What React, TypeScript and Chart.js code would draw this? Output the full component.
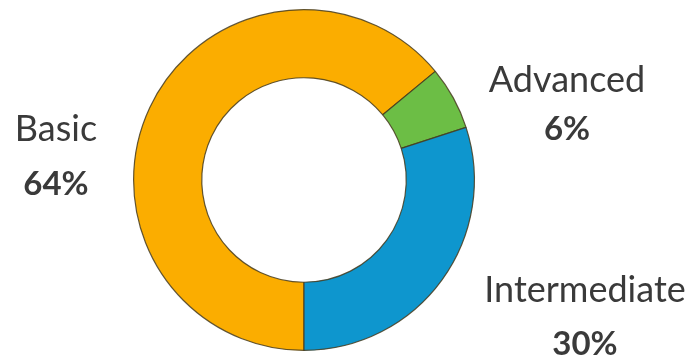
import React, { useEffect, useRef } from "react";
import { Chart, registerables } from "chart.js";

Chart.register(...registerables);

const categories = ["Basic", "Advanced", "Intermediate"];
const values = [64, 6, 30];
const colors = ["#FBAD00", "#6CBE45", "#0E96CE"];
const percentLabels = ["64%", "6%", "30%"];

// label anchor positions (centre x, name baseline y, percent baseline y)
const labelPos = [
  { x: 56, y1: 141, y2: 195 },
  { x: 567, y1: 92, y2: 140 },
  { x: 585, y1: 302, y2: 355 },
];

const labelPlugin = {
  id: "sideLabels",
  afterDraw(chart: any) {
    const ctx = chart.ctx;
    ctx.save();
    ctx.fillStyle = "#3a3a3a";
    ctx.textAlign = "center";
    ctx.textBaseline = "alphabetic";
    categories.forEach((c, i) => {
      const p = labelPos[i];
      ctx.font = "normal 36px Lato";
      ctx.fillText(c, p.x, p.y1);
      ctx.font = "bold 33px Lato";
      ctx.fillText(percentLabels[i], p.x, p.y2);
    });
    ctx.restore();
  },
};

export default function App() {
  const ref = useRef<HTMLCanvasElement | null>(null);
  useEffect(() => {
    if (!ref.current) return;
    const chart = new Chart(ref.current, {
      type: "doughnut",
      data: {
        labels: categories,
        datasets: [
          {
            data: values,
            backgroundColor: colors,
            borderColor: "rgba(70,60,30,0.85)",
            borderWidth: 1.2,
          },
        ],
      },
      options: {
        animation: false,
        responsive: false,
        rotation: 180,
        cutout: "60%",
        layout: { padding: { left: 133, right: 222, top: 9, bottom: 10 } },
        plugins: { legend: { display: false }, tooltip: { enabled: false } },
      },
      plugins: [labelPlugin],
    });
    return () => chart.destroy();
  }, []);
  return (
    <div style={{ position: "fixed", left: 0, top: 0, width: 697, height: 361, background: "#fff" }}>
      <canvas ref={ref} width={697} height={361} />
    </div>
  );
}
